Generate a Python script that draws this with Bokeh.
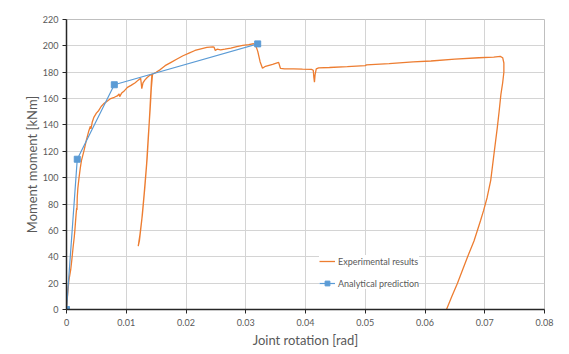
from bokeh.plotting import figure
from bokeh.models import FixedTicker, Range1d, Legend, LegendItem
from bokeh.embed import file_html
from bokeh.resources import INLINE

# ---------------- data ----------------
exp_rot = [0, 0.0002, 0.0004, 0.0007, 0.0009, 0.0011, 0.0013, 0.0014, 0.0016, 0.0017, 0.00175,
           0.0018, 0.0019, 0.0021, 0.0023, 0.0025, 0.0029, 0.0033, 0.0037, 0.0040, 0.0041,
           0.0043, 0.0046, 0.0050, 0.0054, 0.0058, 0.0062, 0.0068, 0.0074, 0.0080, 0.0085,
           0.0088, 0.0089, 0.0092, 0.0097, 0.0102, 0.0108, 0.0115, 0.0120, 0.0124, 0.0125,
           0.0126, 0.0128, 0.0131, 0.0135, 0.0139, 0.0143,
           0.0142, 0.0140, 0.0138, 0.0135, 0.0131, 0.0127, 0.0123, 0.0120,
           0.0122, 0.0126, 0.0130, 0.0134, 0.0137, 0.0140, 0.0142, 0.0144,
           0.0150, 0.0157, 0.0165, 0.0175, 0.0185, 0.0195, 0.0205, 0.0215, 0.0225, 0.0235,
           0.0245, 0.0247, 0.0249, 0.0252, 0.0258, 0.0265, 0.0275, 0.0285, 0.0295, 0.0305,
           0.0313, 0.0316, 0.0320, 0.0324, 0.0328, 0.0333, 0.0345, 0.0355, 0.0358, 0.0365,
           0.0380, 0.0395, 0.0410, 0.0413, 0.0414, 0.0415, 0.0416, 0.0418, 0.0422, 0.0440,
           0.0470, 0.0500, 0.0502, 0.0540, 0.0580, 0.0610, 0.0650, 0.0690, 0.0715, 0.0726,
           0.0730, 0.0732, 0.0732, 0.0730, 0.0728, 0.0727, 0.0724, 0.0721, 0.0716, 0.0710,
           0.0704, 0.0698, 0.0693, 0.0682, 0.0671, 0.0662, 0.0654, 0.0645, 0.0636]
exp_moment = [0, 12, 22, 30, 38, 47, 55, 60, 72, 77, 75.5,
              85, 92, 100, 107, 113, 120, 128, 135, 139, 137,
              142, 146, 149, 151, 154, 156, 158, 160, 161, 162,
              163.5, 161.5, 164, 166, 168.5, 170, 172, 174, 175.5, 172,
              167.5, 172, 174, 176, 177.5, 178.5,
              172, 155, 138, 115, 92, 72, 57, 48,
              52, 68, 88, 110, 132, 152, 168, 178.5,
              180, 182, 185, 187.5, 190, 192.5, 194.5, 196.5, 197.8, 198.8,
              199.2, 199, 196.5, 197.5, 197, 197.5, 198.3, 199.5, 200.3, 201,
              201.6, 201, 196, 188, 183, 184.5, 186, 187.5, 183, 182.5,
              182.5, 182.3, 182.2, 181.5, 176, 172.5, 178, 182.5, 183.3, 183.6,
              184.2, 185, 185.6, 186.5, 187.8, 188.5, 190, 191, 191.5, 192,
              191, 187, 180, 172, 166, 163, 150, 138, 120, 98,
              85, 75, 67.5, 52, 39.7, 29, 19.5, 10, 0]

ana_rot = [0, 0.0018, 0.008, 0.032]
ana_moment = [0, 114, 170.5, 201.5]

x_ticks = [0, 0.01, 0.02, 0.03, 0.04, 0.05, 0.06, 0.07, 0.08]
x_tick_labels = ["0", "0.01", "0.02", "0.03", "0.04", "0.05", "0.06", "0.07", "0.08"]
y_ticks = [0, 20, 40, 60, 80, 100, 120, 140, 160, 180, 200, 220]

ORANGE = "#ed7d31"
BLUE = "#5b9bd5"
FONT = "Lato"
TXT = "#595959"

p = figure(width=561, height=350, output_backend="svg", toolbar_location=None,
           x_range=Range1d(0, 0.08), y_range=Range1d(0, 220),
           min_border_left=66, min_border_right=17, min_border_top=19, min_border_bottom=41)

p.background_fill_color = "white"
p.border_fill_color = "white"
p.outline_line_color = "#bfbfbf"
p.outline_line_width = 1

for ax in (p.xaxis[0], p.yaxis[0]):
    ax.axis_line_color = "#262626"
    ax.axis_line_width = 1.5
    ax.major_tick_out = 4
    ax.major_tick_in = 0
    ax.minor_tick_out = 0
    ax.minor_tick_in = 0
    ax.major_tick_line_color = "#262626"
    ax.major_label_text_font = FONT
    ax.major_label_text_font_size = "9px"
    ax.major_label_text_color = TXT
    ax.axis_label_text_font = FONT
    ax.axis_label_text_font_size = "13px"
    ax.axis_label_text_font_style = "normal"
    ax.axis_label_text_color = TXT

p.xaxis.ticker = FixedTicker(ticks=x_ticks)
p.xaxis.major_label_overrides = {t: l for t, l in zip(x_ticks, x_tick_labels)}
p.yaxis.ticker = FixedTicker(ticks=y_ticks)
p.xaxis.axis_label = "Joint rotation [rad]"
p.yaxis.axis_label = "Moment moment [kNm]"
p.xaxis.major_label_standoff = 5
p.yaxis.major_label_standoff = 4
p.xaxis.axis_label_standoff = 3
p.yaxis.axis_label_standoff = 0

p.xgrid.ticker = FixedTicker(ticks=x_ticks)
p.ygrid.ticker = FixedTicker(ticks=y_ticks)
p.grid.grid_line_color = "#d4d4d4"
p.grid.grid_line_width = 1

r_exp = p.line(exp_rot, exp_moment, line_color=ORANGE, line_width=1.3)
r_ana = p.line(ana_rot, ana_moment, line_color=BLUE, line_width=1.2)
r_ana_pts = p.scatter(ana_rot, ana_moment, marker="square", size=6,
                      fill_color=BLUE, line_color=BLUE)

legend = Legend(items=[LegendItem(label="Experimental results", renderers=[r_exp]),
                       LegendItem(label="Analytical prediction", renderers=[r_ana, r_ana_pts])],
                location=(253, 20))
legend.label_text_font = FONT
legend.label_text_font_size = "9px"
legend.label_text_color = TXT
legend.border_line_color = None
legend.background_fill_color = "white"
legend.background_fill_alpha = 1
legend.glyph_width = 16
legend.glyph_height = 12
legend.label_height = 12
legend.label_standoff = 3
legend.spacing = 10
legend.padding = 10
legend.margin = 0
p.add_layout(legend)

open("out.html", "w").write(file_html(p, INLINE))
